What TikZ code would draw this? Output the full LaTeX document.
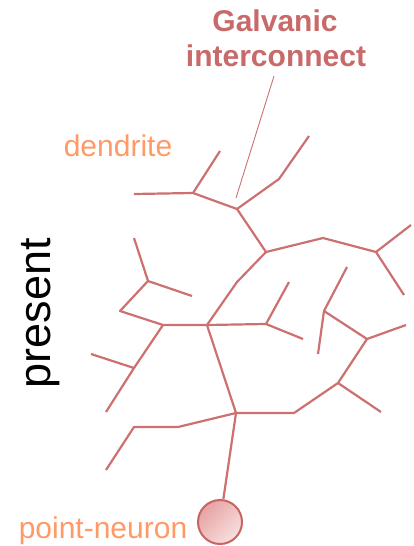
\documentclass[tikz,border=0pt]{standalone}
\usepackage{fontspec}
\setmainfont{Liberation Sans}
\definecolor{branch}{HTML}{CC7070}
\definecolor{galv}{HTML}{C86A6A}
\definecolor{lbl}{HTML}{FF9966}
\definecolor{somaedge}{HTML}{C86464}
\definecolor{somadark}{HTML}{E6A2A2}
\definecolor{somalight}{HTML}{F9E0E0}
\begin{document}
\begin{tikzpicture}[x=1pt, y=-1pt, every node/.style={font=\fontsize{30}{34}\selectfont, inner sep=0pt},
    dend/.style={branch, line width=2.2pt, line join=round}]
  \useasboundingbox (0,0) rectangle (413,546);
  % junctions and bends
  \foreach \n/\x/\y in {j1/193/193, j2/237/209, j3/266/252, j4/376/252, j5/148/281, j6/163/325,
      j7/207/325, j8/266/324, j9/236/413, j10/338/383, j11/367/339, j12/324/311,
      b1/279/179, b2/323/238, b3/237/282, b4/120/311, b5/134/368, b6/294/413, b7/178/427, b8/134/427}
    {\coordinate (\n) at (\x,\y);}
  % free tips
  \foreach \n/\x/\y in {t1/134/194, t2/220/151, t3/309/136, t4/411/225, t5/404/295, t6/134/238,
      t7/192/296, t8/289/282, t9/303/339, t10/91/354, t11/106/412, t12/381/412, t13/406/325,
      t14/318/354, t15/347/267, t16/106/470}
    {\coordinate (\n) at (\x,\y);}
  % soma
  \node (soma) [circle, draw=somaedge, line width=2pt, minimum size=44pt,
    top color=somadark, bottom color=somalight, shading angle=45] at (220,522) {};
  % dendritic tree
  \draw[dend] (t1) -- (j1) -- (j2) -- (j3) -- (b3) -- (j7) -- (j9) -- (soma);
  \draw[dend] (j1) -- (t2);
  \draw[dend] (j2) -- (b1) -- (t3);
  \draw[dend] (j3) -- (b2) -- (j4) -- (t4) (j4) -- (t5);
  \draw[dend] (t6) -- (j5) -- (t7) (j5) -- (b4) -- (j6) -- (j7) -- (j8) -- (t8) (j8) -- (t9);
  \draw[dend] (j6) -- (b5) -- (t11) (b5) -- (t10);
  \draw[dend] (j9) -- (b6) -- (j10) -- (t12) (j10) -- (j11) -- (t13) (j11) -- (j12) -- (t14) (j12) -- (t15);
  \draw[dend] (j9) -- (b7) -- (b8) -- (t16);
  % labels
  \node (galvanic) [anchor=base, galv, font=\fontsize{30}{34}\selectfont\bfseries] at (275,31) {Galvanic};
  \node (inter) [anchor=base, galv, font=\fontsize{30}{34}\selectfont\bfseries] at (276,66) {interconnect};
  \coordinate (ptr) at (274,76);
  \coordinate (gap) at (236,198);
  \draw[branch, line width=0.9pt] (ptr) -- (gap);
  \node (dendrite) [anchor=base, lbl] at (118,156) {dendrite};
  \node (pointneuron) [anchor=base, lbl] at (103,538) {point-neuron};
  \node (present) [anchor=base, rotate=90, font=\fontsize{45}{54}\selectfont] at (50,313) {present};
\end{tikzpicture}
\end{document}
